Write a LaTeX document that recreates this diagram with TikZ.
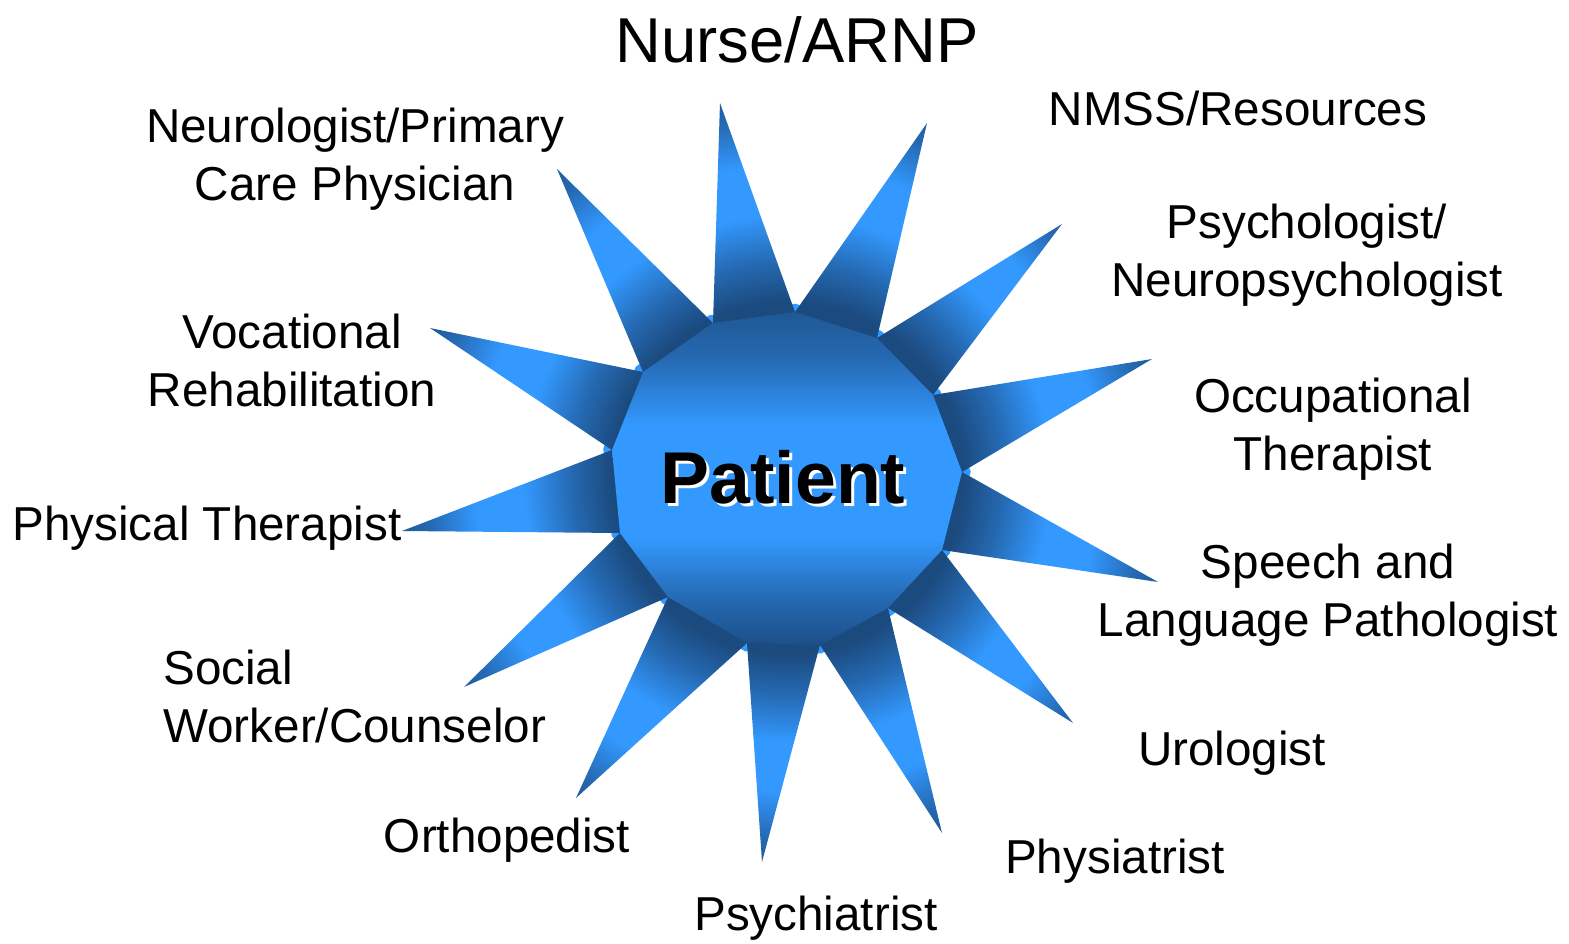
\documentclass[tikz,border=0pt]{standalone}
\usepackage{fontspec}
\setmainfont{Liberation Sans}
\usetikzlibrary{calc}

\definecolor{spikedark}{HTML}{1B4A7E}
\definecolor{spikemid}{HTML}{2569B2}
\definecolor{spikebright}{HTML}{3399FF}
\definecolor{spiketip}{HTML}{1F5796}
\definecolor{facetop}{HTML}{1F5895}
\definecolor{facebottom}{HTML}{1C4F88}

\pgfdeclareradialshading{spikeshade}{\pgfpoint{0bp}{0bp}}{color(0bp)=(spikedark); color(11bp)=(spikedark); color(13.5bp)=(spikemid); color(16.5bp)=(spikebright); color(19.5bp)=(spikebright); color(22.5bp)=(spikemid); color(24.5bp)=(spiketip); color(50bp)=(spiketip)}
\pgfdeclareverticalshading{faceshade}{100bp}{color(0bp)=(facebottom); color(25bp)=(facebottom); color(32bp)=(spikemid); color(41bp)=(spikebright); color(58bp)=(spikebright); color(68bp)=(spikemid); color(75bp)=(facetop); color(100bp)=(facetop)}

\begin{document}
\begin{tikzpicture}[x=0.5pt, y=-0.5pt,
  member/.style={font=\fontsize{23.8}{29}\selectfont, align=center, inner sep=0pt, anchor=base},
  patienttext/.style={font=\fontsize{36.7}{44}\selectfont\bfseries, inner sep=0pt, anchor=base}]
  \fill[white] (0,0) rectangle (1569,943);
  \useasboundingbox (0,0) rectangle (1569,943);
  \coordinate (c) at (787,478);
  % rim of the face (p) and the tips of the spikes (t)
  \foreach \k/\px/\py/\tx/\ty in {1/713/323/720/103, 2/795/312/927/123, 3/877/338/1062/224,
      4/933/395/1152/359, 5/962/472/1158/582, 6/942/550/1073/723, 7/888/608/942/833,
      8/820/645/762/862, 9/747/643/576/798, 10/668/597/464/687, 11/620/533/402/531,
      12/612/450/430/328, 13/643/372/557/169}{
    \coordinate (p\k) at (\px,\py);
    \coordinate (t\k) at (\tx,\ty);
  }

  \fill[spikebright] ($(c)!1.05!(p1)$) \foreach \k in {2,...,13}{ -- ($(c)!1.05!(p\k)$)} -- cycle;
  \begin{scope}
    \clip (p1) \foreach \k [evaluate=\k as \n using {int(mod(\k,13)+1)}] in {1,...,13}{ -- (t\k) -- (p\n)} -- cycle;
    \shade[shading=spikeshade] (c) circle (400);
  \end{scope}
  \shade[shading=faceshade] (p1) \foreach \k in {2,...,13}{ -- (p\k)} -- cycle;

  \node[patienttext, white] (patientshadow) at (786,506) {Patient};
  \node[patienttext] (patient) at (783,503) {Patient};

  \node[member, font=\fontsize{31.7}{38}\selectfont] (nurse) at (797,62) {Nurse/ARNP};
  \node[member] (neuro) at (355,200) {Neurologist/Primary\\Care Physician};
  \node[member] (nmss) at (1238,125) {NMSS/Resources};
  \node[member] (psychologist) at (1307,296) {Psychologist/\\Neuropsychologist};
  \node[member] (occupational) at (1333,470) {Occupational\\Therapist};
  \node[member] (speech) at (1328,636) {Speech and\\Language Pathologist};
  \node[member] (urologist) at (1232,765) {Urologist};
  \node[member] (physiatrist) at (1115,873) {Physiatrist};
  \node[member] (psychiatrist) at (816,930) {Psychiatrist};
  \node[member] (orthopedist) at (507,852) {Orthopedist};
  \node[member, align=left, anchor=base west] (social) at (163,742) {Social\\Worker/Counselor};
  \node[member] (physical) at (207,540) {Physical Therapist};
  \node[member] (vocational) at (292,406) {Vocational\\Rehabilitation};
\end{tikzpicture}
\end{document}
